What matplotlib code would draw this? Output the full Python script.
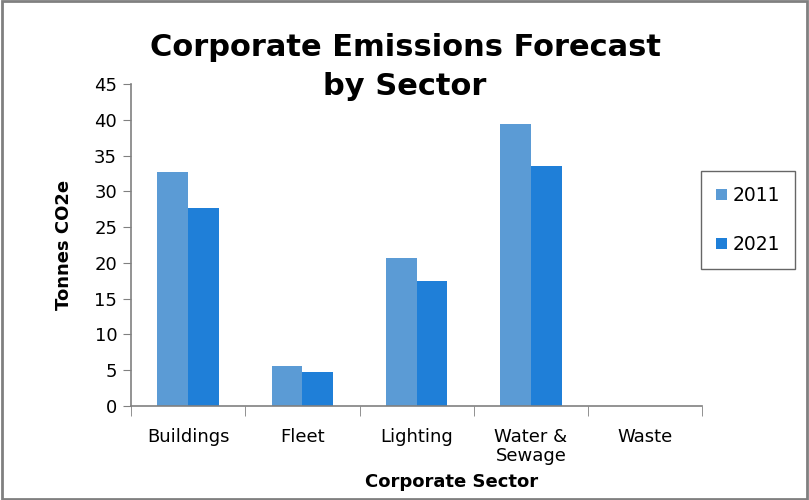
import numpy as np
import matplotlib.pyplot as plt
from matplotlib.patches import Rectangle

sectors = ["Buildings", "Fleet", "Lighting", "Water &\nSewage", "Waste"]
y2011 = [32.7, 5.6, 20.7, 39.4, 0]
y2021 = [27.7, 4.7, 17.5, 33.5, 0]

c2011 = "#5b9bd5"
c2021 = "#1f7fd8"

fig = plt.figure(figsize=(8.09, 5), dpi=100)
ax = fig.add_axes([0.162, 0.188, 0.706, 0.644])

x = np.arange(len(sectors))
w = 0.27
ax.bar(x - w / 2, y2011, w, color=c2011, label="2011")
ax.bar(x + w / 2, y2021, w, color=c2021, label="2021")

ax.set_xlim(-0.5, len(sectors) - 0.5)
ax.set_ylim(0, 45)
ax.set_yticks(range(0, 46, 5))
ax.set_xticks(x)
ax.set_xticklabels(sectors, fontsize=13, linespacing=1.05)
ax.tick_params(axis="x", length=0, pad=16)
ax.set_xticks(np.arange(-0.5, len(sectors), 1), minor=True)
ax.tick_params(axis="x", which="minor", length=7, color="#808080", direction="out")
ax.tick_params(axis="y", labelsize=13, length=6, color="#808080", direction="out", pad=4)

for s in ["top", "right"]:
    ax.spines[s].set_visible(False)
for s in ["left", "bottom"]:
    ax.spines[s].set_color("#808080")
    ax.spines[s].set_linewidth(1.2)

ax.set_ylabel("Tonnes CO2e", fontsize=13, fontweight="bold", labelpad=15)
fig.text(452 / 809, 1 - 482 / 500, "Corporate Sector", fontsize=13,
         fontweight="bold", ha="center", va="center")

fig.text(405 / 809, 1 - 67 / 500, "Corporate Emissions Forecast\nby Sector",
         fontsize=22, fontweight="bold", ha="center", va="center", linespacing=1.45)

leg = fig.legend(loc="center", bbox_to_anchor=(748 / 809, 1 - 220 / 500),
                 fontsize=13.5, frameon=True, fancybox=False, handlelength=0.55,
                 handleheight=0.55, handletextpad=0.3, labelspacing=1.6,
                 borderpad=0.8)
leg.get_frame().set_edgecolor("#404040")
leg.get_frame().set_linewidth(1.0)

fig.patches.append(Rectangle((0.002, 0.002), 0.996, 0.996, transform=fig.transFigure,
                             fill=False, edgecolor="#808080", linewidth=2))

fig.savefig("out.png", dpi=100)
